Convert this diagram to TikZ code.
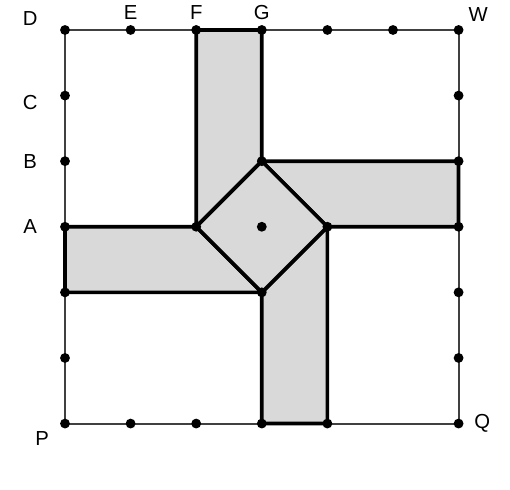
\documentclass[tikz,border=0pt]{standalone}
\usepackage{fontspec}
\setmainfont{Liberation Sans}
\definecolor{stripgray}{HTML}{D9D9D9}
\begin{document}
\begin{tikzpicture}
  [every node/.style={font=\fontsize{8.8}{10}\selectfont},
   pt/.style={circle,fill=black,inner sep=0pt,minimum size=1.5mm},
   strip/.style={fill=stripgray,draw=black,line width=1.6pt,line join=miter}]
\useasboundingbox (-0.991,-1.012) rectangle (6.784,6.457);

% grid points
\foreach \i in {0,...,6}
  \foreach \j in {0,...,6}
    \coordinate (c\i\j) at (\i,\j);

% outer square
\draw[black!75,line width=0.9pt] (c00) -- (c60) -- (c66) -- (c06) -- cycle;

% the four strips and the middle square
\draw[strip] (c26) -- (c36) -- (c34) -- (c23) -- cycle;
\draw[strip] (c34) -- (c64) -- (c63) -- (c43) -- cycle;
\draw[strip] (c43) -- (c40) -- (c30) -- (c32) -- cycle;
\draw[strip] (c32) -- (c02) -- (c03) -- (c23) -- cycle;
\draw[strip] (c34) -- (c43) -- (c32) -- (c23) -- cycle;

% points on the sides
\foreach \p in {c00,c01,c02,c03,c04,c05,c06,
                c16,c26,c36,c46,c56,c66,
                c65,c64,c63,c62,c61,c60,
                c10,c20,c30,c40,
                c34,c43,c32,c23,c33}
  \node[pt] at (\p) {};

% labels
\node (labD) at (-0.53,6.18) {D};
\node (labE) at (1,6.27) {E};
\node (labF) at (2,6.27) {F};
\node (labG) at (3,6.27) {G};
\node (labW) at (6.30,6.24) {W};
\node (labC) at (-0.53,4.90) {C};
\node (labB) at (-0.53,4.0) {B};
\node (labA) at (-0.53,3.0) {A};
\node (labP) at (-0.35,-0.23) {P};
\node (labQ) at (6.36,0.0) {Q};
\end{tikzpicture}
\end{document}
